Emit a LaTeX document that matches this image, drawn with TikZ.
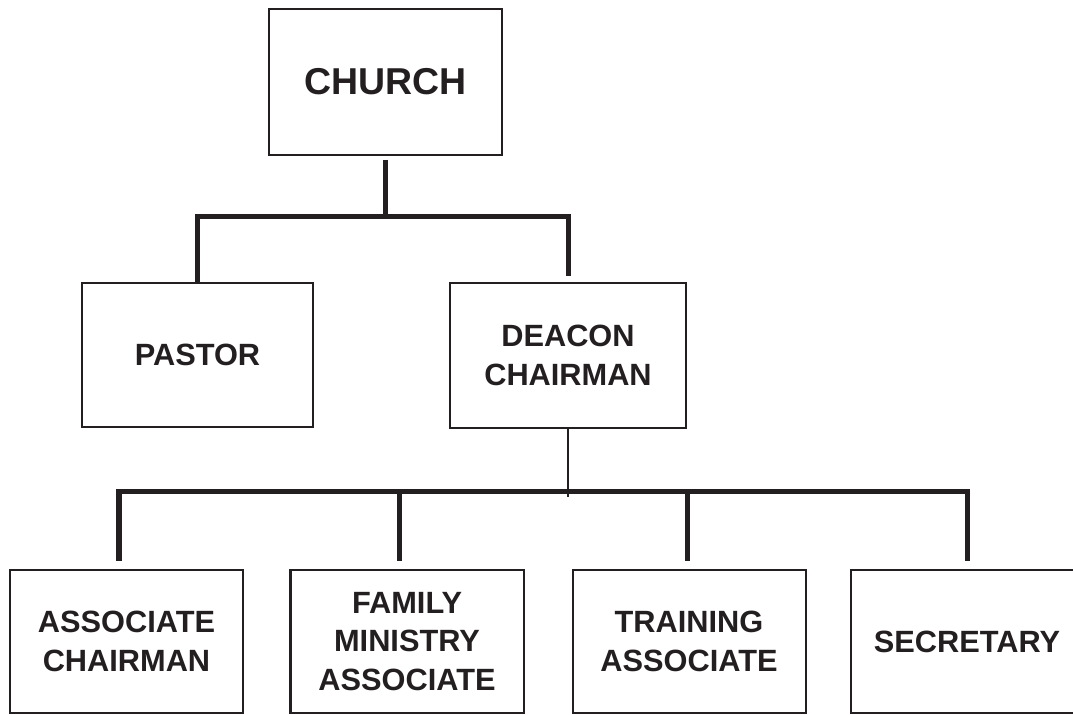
\documentclass[tikz,border=0pt]{standalone}
\usepackage{fontspec}
\setmainfont{Liberation Sans}
\definecolor{ink}{RGB}{35,31,32}
\begin{document}
\begin{tikzpicture}[line join=miter, draw=ink,
  box/.style={rectangle,draw=ink,line width=1.15pt,minimum width=4.66cm,minimum height=2.88cm,inner sep=0pt,align=center,font=\fontsize{17.5}{22}\selectfont\bfseries,text=ink},
  bus/.style={draw=ink,line width=2.85pt},
  thin bus/.style={draw=ink,line width=0.85pt}]
\useasboundingbox (0,0) rectangle (21.46,14.3);
\begin{scope}
\node [box,minimum height=2.92cm,font=\fontsize{21.3}{25}\selectfont\bfseries](church) at (7.71,12.66) {CHURCH};
\node [box,minimum width=4.62cm](pastor) at (3.95,7.2) {PASTOR};
\node [box,minimum width=4.72cm,minimum height=2.9cm](deacon) at (11.36,7.19) {DEACON\\CHAIRMAN};
\node [box,minimum height=2.86cm](assoc) at (2.53,1.47) {ASSOCIATE\\CHAIRMAN};
\node [box,minimum height=2.86cm](family) at (8.14,1.47) {FAMILY\\MINISTRY\\ASSOCIATE};
\node [box,minimum height=2.86cm](training) at (13.78,1.47) {TRAINING\\ASSOCIATE};
\node [box,minimum height=2.86cm](secretary) at (19.34,1.47) {SECRETARY};
\end{scope}
\coordinate (top bus) at (7.71,9.96);
\coordinate (low bus) at (11.42,4.46);
% church to pastor and deacon
\draw[bus,shorten <=2pt] (church) -- (top bus);
\draw[bus,shorten >=0.12cm] (pastor.north) |- (top bus) -| (deacon.north);
% deacon chairman to the four associates
\draw[thin bus,shorten >=-0.1cm] (deacon) -- (deacon.south |- low bus);
\draw[bus,shorten <=0.16cm,shorten >=0.16cm] ([xshift=-0.15cm]assoc.north) |- (low bus) -| (secretary.north);
\draw[bus,shorten <=0.16cm] ([xshift=-0.16cm]family.north) -- ([xshift=-0.16cm]family.north |- low bus);
\draw[bus,shorten <=0.16cm] ([xshift=-0.04cm]training.north) -- ([xshift=-0.04cm]training.north |- low bus);
\end{tikzpicture}
\end{document}
